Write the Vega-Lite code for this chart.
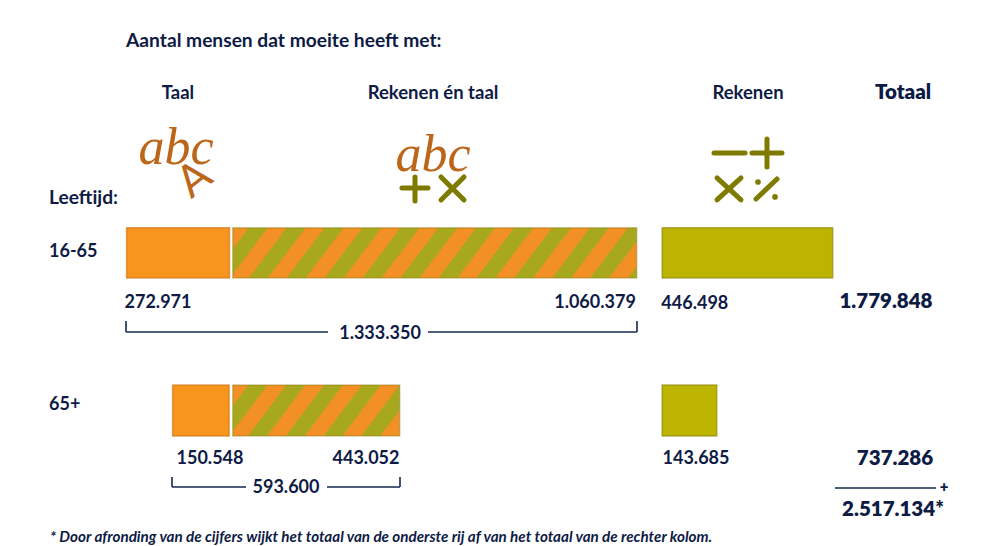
{"$schema":"https://vega.github.io/schema/vega-lite/v6.json","width":982,"height":546,"autosize":{"type":"fit","contains":"padding"},"padding":0,"background":"#ffffff","view":{"stroke":null},
"datasets":{
"balken":[
{"leeftijd":"16-65","soort":"Taal","start":1500,"eind":271000,"y1":0.84,"y2":1.16},
{"leeftijd":"16-65","soort":"Rekenen","start":1403500,"eind":1850000,"y1":0.84,"y2":1.16},
{"leeftijd":"65+","soort":"Taal","start":122000,"eind":270000,"y1":1.84,"y2":2.166},
{"leeftijd":"65+","soort":"Rekenen","start":1403500,"eind":1546500,"y1":1.84,"y2":2.166}],
"combi1":[{"leeftijd":"16-65","soort":"Rekenen en taal","start":279500,"eind":1337000,"y1":0.84,"y2":1.16}],
"combi2":[{"leeftijd":"65+","soort":"Rekenen en taal","start":279500,"eind":716500,"y1":1.84,"y2":2.166}],
"lijnen":[
{"a":0,"b":528796,"y1":1.503,"y2":1.503},{"a":790576,"b":1337696,"y1":1.503,"y2":1.503},
{"a":0,"b":0,"y1":1.433,"y2":1.503},{"a":1337696,"b":1337696,"y1":1.433,"y2":1.503},
{"a":120419,"b":314136,"y1":2.49,"y2":2.49},{"a":526178,"b":717277,"y1":2.49,"y2":2.49},
{"a":120419,"b":120419,"y1":2.427,"y2":2.49},{"a":717277,"b":717277,"y1":2.427,"y2":2.49},
{"a":1856021,"b":2120419,"y1":2.497,"y2":2.497}],
"tekenlijnen":[
{"a":722513,"b":790576,"y1":0.586,"y2":0.586},{"a":756545,"b":756545,"y1":0.516,"y2":0.669},
{"a":824607,"b":884816,"y1":0.516,"y2":0.662},{"a":824607,"b":884816,"y1":0.662,"y2":0.516},
{"a":1539266,"b":1620428,"y1":0.363,"y2":0.363},
{"a":1638743,"b":1717277,"y1":0.363,"y2":0.363},{"a":1678010,"b":1678010,"y1":0.274,"y2":0.452},
{"a":1547120,"b":1609947,"y1":0.522,"y2":0.662},{"a":1547120,"b":1609947,"y1":0.662,"y2":0.522},
{"a":1649215,"b":1704188,"y1":0.656,"y2":0.529}],
"stippen":[{"x":1654450,"y":0.548},{"x":1698953,"y":0.643}],
"titel":[
{"t":"Aantal mensen dat moeite heeft met:","x":0,"y":-0.352},
{"t":"Leeftijd:","x":-201571,"y":0.65}],
"links":[
{"t":"16-65","x":-201571,"y":0.994},
{"t":"65+","x":-201571,"y":1.968}],
"koppen":[
{"t":"Taal","x":136126,"y":-0.02},
{"t":"Rekenen én taal","x":803665,"y":-0.02},
{"t":"Rekenen","x":1628272,"y":-0.02}],
"getallen":[
{"t":"272.971","x":83770,"y":1.318},
{"t":"1.060.379","x":1227749,"y":1.318},
{"t":"446.498","x":1489000,"y":1.324},
{"t":"1.333.350","x":664921,"y":1.516},
{"t":"150.548","x":219895,"y":2.31},
{"t":"443.052","x":628272,"y":2.31},
{"t":"143.685","x":1492147,"y":2.31},
{"t":"593.600","x":418848,"y":2.496}],
"totalen":[
{"t":"Totaal","x":2034031,"y":-0.02},
{"t":"1.779.848","x":1989529,"y":1.31},
{"t":"737.286","x":2013089,"y":2.31},
{"t":"2.517.134*","x":2007853,"y":2.635}],
"plus":[{"t":"+","x":2141361,"y":2.49}],
"voetnoot":[{"t":"* Door afronding van de cijfers wijkt het totaal van de onderste rij af van het totaal van de rechter kolom.","x":-198953,"y":2.81}],
"abc":[{"t":"abc","x":130890,"y":0.331},{"t":"abc","x":803665,"y":0.376}],
"letterA":[{"t":"A","x":180628,"y":0.535}]
},
"encoding":{
"x":{"field":"x","type":"quantitative","scale":{"domain":[-329843,2240838],"nice":false,"zero":false},"axis":null},
"y":{"field":"y","type":"quantitative","scale":{"domain":[-0.611,2.866],"reverse":true,"nice":false,"zero":false},"axis":null}
},
"layer":[
{"data":{"name":"balken"},"mark":{"type":"rect","strokeWidth":1.5,"strokeOpacity":0.6},
"encoding":{"x":{"field":"start","type":"quantitative"},"x2":{"field":"eind"},"y":{"field":"y1","type":"quantitative"},"y2":{"field":"y2"},
"fill":{"field":"soort","type":"nominal","legend":null,"scale":{"domain":["Taal","Rekenen"],"range":["#F8951D","#BDB400"]}},
"stroke":{"field":"soort","type":"nominal","legend":null,"scale":{"domain":["Taal","Rekenen"],"range":["#C96F10","#8A8000"]}}}},
{"data":{"name":"combi1"},"mark":{"type":"rect","stroke":"#8A7A10","strokeWidth":1.5,"strokeOpacity":0.4,"fill":{"gradient":"linear","x1":0,"y1":0,"x2":1.0847,"y2":0.1017,"stops":[
{"offset":0,"color":"#F28F25"},{"offset":0.0361,"color":"#F28F25"},{"offset":0.0361,"color":"#A8A81E"},{"offset":0.079,"color":"#A8A81E"},{"offset":0.079,"color":"#F28F25"},{"offset":0.1219,"color":"#F28F25"},{"offset":0.1219,"color":"#A8A81E"},{"offset":0.1648,"color":"#A8A81E"},{"offset":0.1648,"color":"#F28F25"},{"offset":0.2077,"color":"#F28F25"},{"offset":0.2077,"color":"#A8A81E"},{"offset":0.2506,"color":"#A8A81E"},{"offset":0.2506,"color":"#F28F25"},{"offset":0.2935,"color":"#F28F25"},{"offset":0.2935,"color":"#A8A81E"},{"offset":0.3363,"color":"#A8A81E"},{"offset":0.3363,"color":"#F28F25"},{"offset":0.3792,"color":"#F28F25"},{"offset":0.3792,"color":"#A8A81E"},{"offset":0.4221,"color":"#A8A81E"},{"offset":0.4221,"color":"#F28F25"},{"offset":0.465,"color":"#F28F25"},{"offset":0.465,"color":"#A8A81E"},{"offset":0.5079,"color":"#A8A81E"},{"offset":0.5079,"color":"#F28F25"},{"offset":0.5508,"color":"#F28F25"},{"offset":0.5508,"color":"#A8A81E"},{"offset":0.5937,"color":"#A8A81E"},{"offset":0.5937,"color":"#F28F25"},{"offset":0.6366,"color":"#F28F25"},{"offset":0.6366,"color":"#A8A81E"},{"offset":0.6795,"color":"#A8A81E"},{"offset":0.6795,"color":"#F28F25"},{"offset":0.7223,"color":"#F28F25"},{"offset":0.7223,"color":"#A8A81E"},{"offset":0.7652,"color":"#A8A81E"},{"offset":0.7652,"color":"#F28F25"},{"offset":0.8081,"color":"#F28F25"},{"offset":0.8081,"color":"#A8A81E"},{"offset":0.851,"color":"#A8A81E"},{"offset":0.851,"color":"#F28F25"},{"offset":0.8939,"color":"#F28F25"},{"offset":0.8939,"color":"#A8A81E"},{"offset":0.9368,"color":"#A8A81E"},{"offset":0.9368,"color":"#F28F25"},{"offset":0.9797,"color":"#F28F25"},{"offset":0.9797,"color":"#A8A81E"},{"offset":1,"color":"#A8A81E"}]}},
"encoding":{"x":{"field":"start","type":"quantitative"},"x2":{"field":"eind"},"y":{"field":"y1","type":"quantitative"},"y2":{"field":"y2"}}},
{"data":{"name":"combi2"},"mark":{"type":"rect","stroke":"#8A7A10","strokeWidth":1.5,"strokeOpacity":0.4,"fill":{"gradient":"linear","x1":0,"y1":0,"x2":1.1645,"y2":0.2683,"stops":[
{"offset":0,"color":"#F28F25"},{"offset":0.0777,"color":"#F28F25"},{"offset":0.0777,"color":"#A8A81E"},{"offset":0.1699,"color":"#A8A81E"},{"offset":0.1699,"color":"#F28F25"},{"offset":0.2621,"color":"#F28F25"},{"offset":0.2621,"color":"#A8A81E"},{"offset":0.3544,"color":"#A8A81E"},{"offset":0.3544,"color":"#F28F25"},{"offset":0.4466,"color":"#F28F25"},{"offset":0.4466,"color":"#A8A81E"},{"offset":0.5388,"color":"#A8A81E"},{"offset":0.5388,"color":"#F28F25"},{"offset":0.6311,"color":"#F28F25"},{"offset":0.6311,"color":"#A8A81E"},{"offset":0.7233,"color":"#A8A81E"},{"offset":0.7233,"color":"#F28F25"},{"offset":0.8155,"color":"#F28F25"},{"offset":0.8155,"color":"#A8A81E"},{"offset":0.9078,"color":"#A8A81E"},{"offset":0.9078,"color":"#F28F25"},{"offset":1,"color":"#F28F25"}]}},
"encoding":{"x":{"field":"start","type":"quantitative"},"x2":{"field":"eind"},"y":{"field":"y1","type":"quantitative"},"y2":{"field":"y2"}}},
{"data":{"name":"lijnen"},"mark":{"type":"rule","color":"#14284F","strokeWidth":1.6},
"encoding":{"x":{"field":"a","type":"quantitative"},"x2":{"field":"b"},"y":{"field":"y1","type":"quantitative"},"y2":{"field":"y2"}}},
{"data":{"name":"tekenlijnen"},"mark":{"type":"rule","color":"#7F7A00","strokeWidth":5,"strokeCap":"round"},
"encoding":{"x":{"field":"a","type":"quantitative"},"x2":{"field":"b"},"y":{"field":"y1","type":"quantitative"},"y2":{"field":"y2"}}},
{"data":{"name":"stippen"},"mark":{"type":"circle","color":"#7F7A00","size":32,"opacity":1}},
{"data":{"name":"titel"},"mark":{"type":"text","align":"left","font":"Lato","fontSize":19.2,"fontWeight":700,"color":"#0E1B45"},"encoding":{"text":{"field":"t"}}},
{"data":{"name":"links"},"mark":{"type":"text","align":"left","font":"Lato","fontSize":18,"fontWeight":700,"color":"#0E1B45"},"encoding":{"text":{"field":"t"}}},
{"data":{"name":"koppen"},"mark":{"type":"text","align":"center","font":"Lato","fontSize":18.5,"fontWeight":700,"color":"#0E1B45"},"encoding":{"text":{"field":"t"}}},
{"data":{"name":"getallen"},"mark":{"type":"text","align":"center","font":"Lato","fontSize":18,"fontWeight":700,"color":"#0E1B45"},"encoding":{"text":{"field":"t"}}},
{"data":{"name":"totalen"},"mark":{"type":"text","align":"center","font":"Lato","fontSize":20.5,"fontWeight":800,"color":"#0E1B45"},"encoding":{"text":{"field":"t"}}},
{"data":{"name":"plus"},"mark":{"type":"text","align":"center","font":"Lato","fontSize":15,"fontWeight":800,"color":"#0E1B45"},"encoding":{"text":{"field":"t"}}},
{"data":{"name":"voetnoot"},"mark":{"type":"text","align":"left","font":"Lato","fontSize":15.2,"fontStyle":"italic","fontWeight":700,"color":"#0E1B45"},"encoding":{"text":{"field":"t"}}},
{"data":{"name":"abc"},"mark":{"type":"text","align":"center","font":"Liberation Serif","fontStyle":"italic","fontSize":52,"color":"#BC661A"},"encoding":{"text":{"field":"t"}}},
{"data":{"name":"letterA"},"mark":{"type":"text","align":"center","font":"Lato","fontSize":44,"angle":-38,"color":"#BC661A"},"encoding":{"text":{"field":"t"}}}
]}
